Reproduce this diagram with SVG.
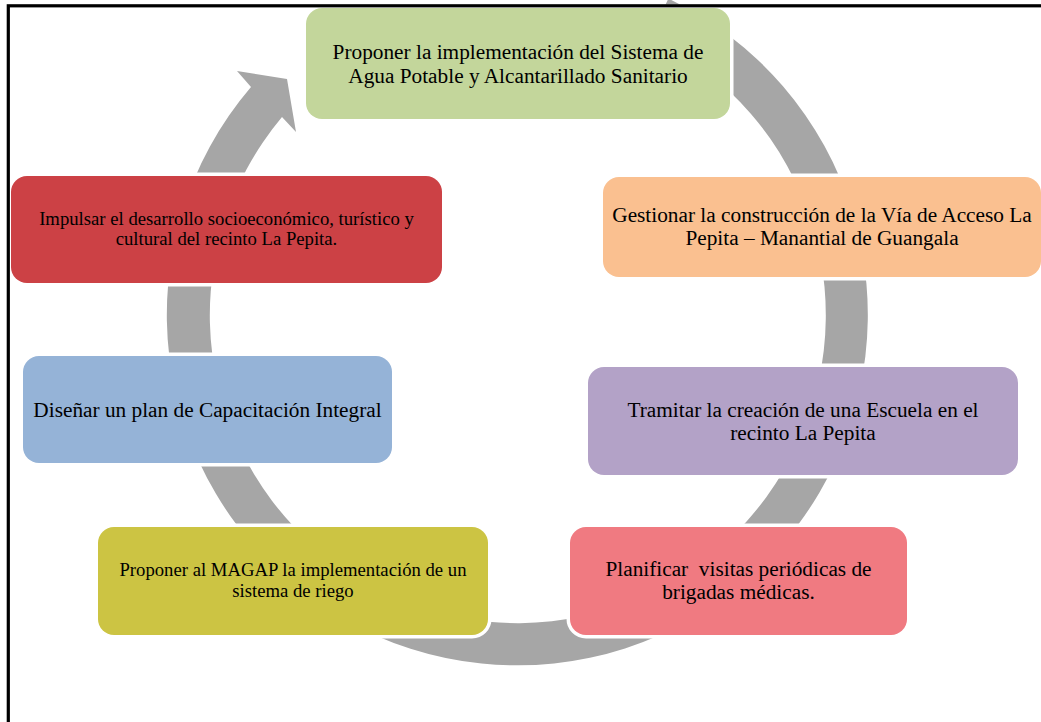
<svg xmlns="http://www.w3.org/2000/svg" width="1041" height="722" viewBox="0 0 1041 722">
<style>
.box{stroke:#fff;stroke-width:7;paint-order:stroke}
.t{font-family:"Liberation Serif","Times New Roman",serif;fill:#000;text-anchor:middle;white-space:pre}
.l{font-size:21.3px}
.s{font-size:18.7px}
</style>
<rect width="1041" height="722" fill="#fff"/>
<g id="connectors">
<path d="M668.4,-1.4 A350.5,350.5 0 1 1 251,87 L237,71 L287,79 L296,132 L282,117 A308,308 0 1 0 650.1,37 Z" fill="#a6a6a6"/>
</g>
<g id="n1">
<rect class="box" x="306" y="8" width="424" height="111" rx="16" fill="#c3d69b"/>
<text class="t l" x="518" y="59">Proponer la implementación del Sistema de</text>
<text class="t l" x="518" y="83">Agua Potable y Alcantarillado Sanitario</text>
</g>
<g id="n2">
<rect class="box" x="603" y="177" width="438" height="100" rx="16" fill="#fac090"/>
<text class="t l" x="822" y="221.5">Gestionar la construcción de la Vía de Acceso La</text>
<text class="t l" x="822" y="245">Pepita – Manantial de Guangala</text>
</g>
<g id="n3">
<rect class="box" x="588" y="367" width="430" height="108" rx="16" fill="#b3a2c7"/>
<text class="t l" x="803" y="416.5">Tramitar la creación de una Escuela en el</text>
<text class="t l" x="803" y="440">recinto La Pepita</text>
</g>
<g id="n4">
<rect class="box" x="570" y="527" width="337" height="108" rx="16" fill="#f07a81"/>
<text class="t l" x="738.5" y="575.5" xml:space="preserve">Planificar  visitas periódicas de</text>
<text class="t l" x="738.5" y="599">brigadas médicas.</text>
</g>
<g id="n5">
<rect class="box" x="98" y="527" width="390" height="108" rx="16" fill="#ccc443"/>
<text class="t s" x="293" y="575.5">Proponer al MAGAP la implementación de un</text>
<text class="t s" x="293" y="597">sistema de riego</text>
</g>
<g id="n6">
<rect class="box" x="23" y="356" width="369" height="107" rx="16" fill="#95b3d7"/>
<text class="t l" x="207.5" y="416.5">Diseñar un plan de Capacitación Integral</text>
</g>
<g id="n7">
<rect class="box" x="11" y="176" width="431" height="107" rx="16" fill="#cc4145"/>
<text class="t s" x="226.5" y="224.5">Impulsar el desarrollo socioeconómico, turístico y</text>
<text class="t s" x="226.5" y="245">cultural del recinto La Pepita.</text>
</g>
<rect id="frame" x="8.3" y="5.8" width="1100" height="800" fill="none" stroke="#000" stroke-width="3.2"/>
</svg>
